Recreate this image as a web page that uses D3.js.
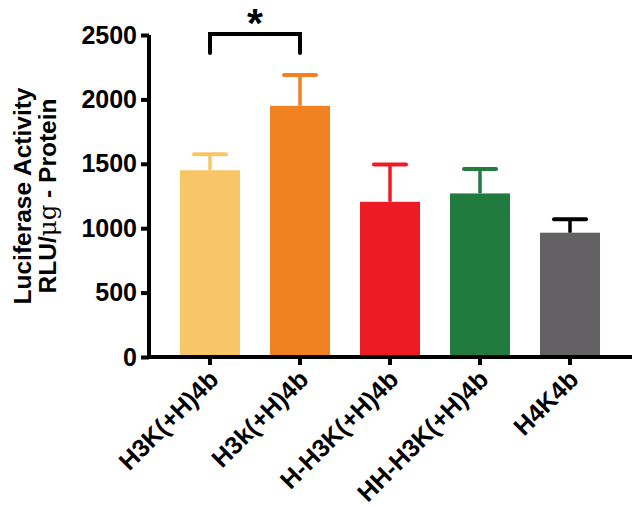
<!DOCTYPE html>
<html><head><meta charset="utf-8">
<script src="https://cdn.jsdelivr.net/npm/d3@7"></script>
<style>body{margin:0;background:#fff}svg{display:block}</style>
</head><body>
<svg id="c" width="634" height="507"></svg>
<script>
const categories = ["H3K(+H)4b","H3k(+H)4b","H-H3K(+H)4b","HH-H3K(+H)4b","H4K4b"];
const means = [1450, 1950, 1205, 1270, 965];
const errors = [125, 240, 290, 190, 105];
const barColors = ["#F6C667","#F28123","#ED1C24","#217A3E","#636163"];
const errColors = ["#F6C667","#F28123","#ED1C24","#217A3E","#000000"];
const yTicks = [0,500,1000,1500,2000,2500];

const svg = d3.select("#c");
const font = "Liberation Sans, Arial, sans-serif";
const y = d3.scaleLinear().domain([0,2500]).range([357,35]);
const x = d3.scaleBand().domain(categories).range([165,615]).paddingInner(1/3).paddingOuter(1/6);

// bars
svg.selectAll("rect.bar").data(categories).enter().append("rect")
  .attr("x", d=>x(d)).attr("width", x.bandwidth())
  .attr("y", (d,i)=>y(means[i])).attr("height",(d,i)=>y(0)-y(means[i]))
  .attr("fill",(d,i)=>barColors[i]);

// error bars
const eg = svg.selectAll("g.err").data(categories).enter().append("g");
eg.append("line").attr("x1",d=>x(d)+x.bandwidth()/2).attr("x2",d=>x(d)+x.bandwidth()/2)
  .attr("y1",(d,i)=>y(means[i])).attr("y2",(d,i)=>y(means[i]+errors[i]))
  .attr("stroke",(d,i)=>errColors[i]).attr("stroke-width",3.5);
eg.append("line").attr("x1",d=>x(d)+x.bandwidth()/2-16).attr("x2",d=>x(d)+x.bandwidth()/2+16)
  .attr("y1",(d,i)=>y(means[i]+errors[i])).attr("y2",(d,i)=>y(means[i]+errors[i]))
  .attr("stroke",(d,i)=>errColors[i]).attr("stroke-width",4).attr("stroke-linecap","round");

// y axis
const yAxis = svg.append("g").attr("transform","translate(149,0)")
  .call(d3.axisLeft(y).tickValues(yTicks).tickFormat(d3.format("d")).tickSize(8).tickPadding(4));
yAxis.select(".domain").attr("stroke","#000").attr("stroke-width",4).attr("d","M0,35V359");
yAxis.selectAll(".tick line").attr("stroke","#000").attr("stroke-width",4);
yAxis.selectAll("text").attr("font-family",font).attr("font-weight","bold").attr("font-size",25).attr("fill","#000");

// x axis
const xAxis = svg.append("g").attr("transform","translate(0,357)")
  .call(d3.axisBottom(x).tickSize(8).tickPadding(4));
xAxis.select(".domain").attr("stroke","#000").attr("stroke-width",4).attr("d","M147,0H632");
xAxis.selectAll(".tick line").attr("stroke","#000").attr("stroke-width",4);
xAxis.selectAll("text").attr("font-family",font).attr("font-weight","bold").attr("font-size",25).attr("fill","#000")
  .attr("text-anchor","end").attr("dy",null).attr("y",0)
  .attr("transform","translate(10,24) rotate(-45)");

// y title
const yt = svg.append("text").attr("transform","translate(0,196) rotate(-90)")
  .attr("text-anchor","middle").attr("font-family",font).attr("font-weight","bold").attr("font-size",24.5).attr("fill","#000");
yt.append("tspan").attr("x",0).attr("y",31).text("Luciferase Activity");
const l2 = yt.append("tspan").attr("x",0).attr("y",56);
l2.append("tspan").text("RLU/");
l2.append("tspan").attr("font-weight","normal").attr("font-family","DejaVu Serif, serif").text("μg");
l2.append("tspan").text(" - Protein");

// significance bracket
const x1 = x(categories[0])+x.bandwidth()/2, x2 = x(categories[1])+x.bandwidth()/2;
svg.append("path").attr("d",`M${x1},${y(2360)}V${y(2500)-1}H${x2}V${y(2360)}`)
  .attr("fill","none").attr("stroke","#000").attr("stroke-width",4).attr("stroke-linecap","round");
svg.append("text").attr("x",(x1+x2)/2).attr("y",37).attr("text-anchor","middle")
  .attr("font-family",font).attr("font-weight","bold").attr("font-size",41).text("*");
</script>
</body></html>
